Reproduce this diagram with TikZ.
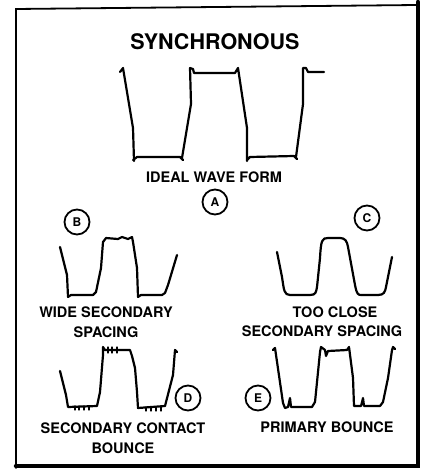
\documentclass[tikz,border=0pt]{standalone}
\usepackage{fontspec}
\setmainfont{TeX Gyre Heros}
\usepackage{tikz}
\usetikzlibrary{calc}
\tikzset{
	wave/.style={line width=2.2pt,line join=round,line cap=round},
	tag/.style={draw,circle,line width=1.8pt,minimum size=25pt,inner sep=0pt,font=\bfseries\fontsize{12}{12}\selectfont},
	caption/.style={align=center,inner sep=0pt,font=\bfseries\fontsize{14.5}{20}\selectfont}
}

\begin{document}
\begin{tikzpicture}[x=1pt,y=-1pt]
\useasboundingbox (0,0) rectangle (423,470);

\begin{scope}[line cap=round]
% frame
\draw[line width=1.8pt] (16,468) -- (16,9) -- (417,5);
\draw[line width=4.5pt] (418,2) -- (418,466) -- (16,466);
\end{scope}

\node[font=\bfseries\fontsize{21.5}{21.5}\selectfont,inner sep=0pt] (title) at (215,42) {SYNCHRONOUS};

\begin{scope}[wave]
% A
\draw (120,72) -- (123,68) -- (133,128) -- (134,161) (133,160) -- (137,157) -- (180,157) -- (183,160)
	(182,158) -- (191,104) -- (190,68) -- (193,69) -- (194,73) -- (235,73) -- (238,68) -- (247,128) -- (247,161)
	(247,160) -- (250,157) -- (294,156) -- (297,159) (296,157) -- (303,104) -- (303,68) -- (306,68) -- (308,72) -- (324,72);
% B
\draw (60,247) -- (67,275) -- (68,297) -- (71,295) -- (93,295) -- (96,292) -- (101,268) -- (103,242) -- (106,238)
	-- (118,239) -- (122,237) -- (128,239) -- (132,237) -- (133,242) -- (137,268) -- (138,297) -- (141,295)
	-- (162,295) -- (165,293) -- (168,285) -- (177,255);
% C
\draw (277,252) -- (282,277) .. controls (284,290) and (284,295) .. (290,295) -- (310,295)
	.. controls (316,295) and (316,292) .. (317,287) -- (320,258) .. controls (321,240) and (322,238) .. (328,238)
	-- (340,238) .. controls (345,238) and (347,241) .. (348,247) -- (355,285) .. controls (357,295) and (358,295) .. (362,295)
	-- (378,295) .. controls (384,295) and (385,292) .. (386,287) -- (392,257);
% D
\draw (60,371) -- (66,395) -- (68,407) -- (97,406) -- (100,392) -- (103,355) -- (103,347) -- (105,350) -- (130,350)
	-- (132,356) -- (135,368) -- (137,392) -- (138,408) -- (165,406) -- (173,375) -- (175,350) -- (177,352);
\foreach \tx in {75,79,84,89}
	\draw[line width=1.2pt] (\tx,406) -- (\tx,410);
\foreach \tx in {146,151,156,161}
	\draw[line width=1.2pt] (\tx,407) -- (\tx,411);
\foreach \tx in {108,112,117}
	\draw[line width=1.2pt] (\tx,347) -- (\tx,353);
% E
\draw (273,350) -- (275,348) -- (283,403) -- (285,408) -- (288,407) -- (290,398) -- (291,407) -- (312,407)
	-- (315,402) -- (320,352) -- (321,347) -- (325,350) -- (326,356) -- (328,351) -- (347,350) -- (349,347)
	-- (353,378) -- (354,406) -- (361,406) -- (363,398) -- (364,406) -- (380,406) -- (383,402) -- (388,378)
	-- (392,350) -- (393,347) -- (395,349);
\end{scope}

% letters
\node[tag] (tagA) at (215,202) {A};
\node[tag] (tagB) at (77,222) {B};
\node[tag] (tagC) at (367,218) {C};
\node[tag] (tagD) at (188,398) {D};
\node[tag] (tagE) at (258,398) {E};

% captions
\node[caption] (capA) at (214,177) {IDEAL WAVE FORM};
\node[caption] (capB) at (106,322) {WIDE SECONDARY\\SPACING};
\node[caption] (capC1) at (335,312) {TOO CLOSE};
\node[caption] (capC2) at (322,331) {SECONDARY SPACING};
\node[caption] (capD) at (123,438) {SECONDARY CONTACT\\BOUNCE};
\node[caption] (capE) at (327,427) {PRIMARY BOUNCE};

\end{tikzpicture}
\end{document}
